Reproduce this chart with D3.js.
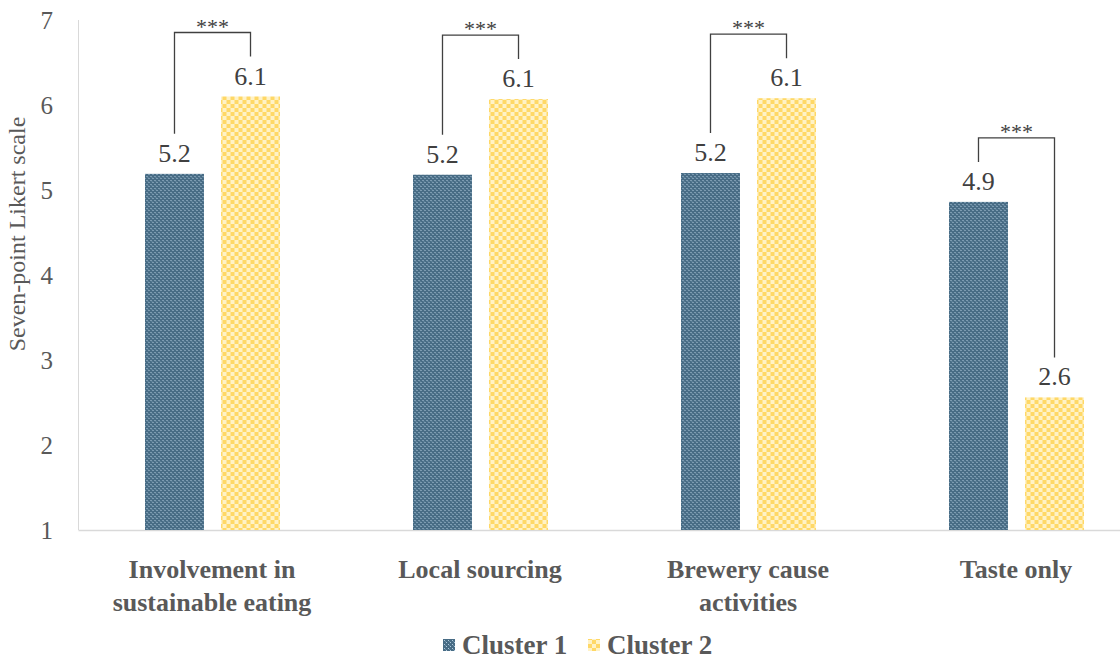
<!DOCTYPE html>
<html>
<head>
<meta charset="utf-8">
<script src="https://d3js.org/d3.v7.min.js"></script>
<style>
  body { margin: 0; background: #fff; }
  #chart { display: block; }
</style>
</head>
<body>
<svg id="chart"></svg>
<script>
const categories = [["Involvement in", "sustainable eating"], ["Local sourcing"], ["Brewery cause", "activities"], ["Taste only"]];
const seriesNames = ["Cluster 1", "Cluster 2"];
const cluster1 = [5.19, 5.18, 5.2, 4.86];
const cluster2 = [6.1, 6.07, 6.08, 2.56];
const significance = ["***", "***", "***", "***"];
const yTicks = [1, 2, 3, 4, 5, 6, 7];

const width = 1120, height = 660;
const grey = "#595959";
const serif = "'Liberation Serif', 'DejaVu Serif', serif";

const svg = d3.select("#chart").attr("width", width).attr("height", height);

// patterns
const defs = svg.append("defs");
const p1 = defs.append("pattern").attr("id", "pat1").attr("patternUnits", "userSpaceOnUse")
    .attr("width", 4).attr("height", 4);
p1.append("rect").attr("width", 4).attr("height", 4).attr("fill", "#486c85");
p1.append("rect").attr("x", 0).attr("y", 0).attr("width", 1).attr("height", 1).attr("fill", "#b0cadc");
p1.append("rect").attr("x", 2).attr("y", 2).attr("width", 1).attr("height", 1).attr("fill", "#b0cadc");
p1.append("rect").attr("x", 1).attr("y", 1).attr("width", 1).attr("height", 1).attr("fill", "#6a8ca3");

const p2 = defs.append("pattern").attr("id", "pat2").attr("patternUnits", "userSpaceOnUse")
    .attr("width", 8).attr("height", 8);
p2.append("rect").attr("width", 8).attr("height", 8).attr("fill", "#fff2c6");
p2.append("rect").attr("x", 0).attr("y", 0).attr("width", 4).attr("height", 4).attr("fill", "#ffd866");
p2.append("rect").attr("x", 4).attr("y", 4).attr("width", 4).attr("height", 4).attr("fill", "#ffd866");

const fills = { "Cluster 1": "url(#pat1)", "Cluster 2": "url(#pat2)" };

const x0 = d3.scaleBand().domain(d3.range(categories.length)).range([78.5, 1150.5]).padding(0);
const x1 = d3.scaleBand().domain(seriesNames).range([66.5, 201.5]).paddingInner(0.224);
const y = d3.scaleLinear().domain([1, 7]).range([530, 20]);

// axes lines
svg.append("line").attr("x1", 78.5).attr("x2", 78.5).attr("y1", y(7)).attr("y2", y(1))
    .attr("stroke", "#d9d9d9").attr("stroke-width", 1);
svg.append("line").attr("x1", 78.5).attr("x2", width).attr("y1", y(1) + 0.5).attr("y2", y(1) + 0.5)
    .attr("stroke", "#d9d9d9").attr("stroke-width", 1.5);

// y tick labels
svg.append("g").selectAll("text").data(yTicks).join("text")
    .attr("x", 53).attr("y", d => y(d)).attr("dy", "0.35em")
    .attr("text-anchor", "end")
    .style("font-family", serif).style("font-size", "25px").style("fill", grey)
    .text(d => d);

svg.append("text")
    .attr("transform", `translate(25,234) rotate(-90)`)
    .attr("text-anchor", "middle")
    .style("font-family", serif).style("font-size", "24px").style("fill", grey)
    .text("Seven-point Likert scale");

const rows = categories.map((c, i) => ({ i, values: [cluster1[i], cluster2[i]] }));

const g = svg.append("g").selectAll("g").data(rows).join("g")
    .attr("transform", d => `translate(${x0(d.i)},0)`);

g.selectAll("rect").data(d => d.values.map((v, k) => ({ key: seriesNames[k], v }))).join("rect")
    .attr("x", d => x1(d.key)).attr("width", x1.bandwidth())
    .attr("y", d => y(d.v)).attr("height", d => y(1) - y(d.v))
    .attr("fill", d => fills[d.key]);

g.selectAll("text.val").data(d => d.values.map((v, k) => ({ key: seriesNames[k], v }))).join("text")
    .attr("class", "val")
    .attr("x", d => x1(d.key) + x1.bandwidth() / 2).attr("y", d => y(d.v) - 12)
    .attr("text-anchor", "middle")
    .style("font-family", serif).style("font-size", "26px").style("fill", "#404040")
    .text(d => d3.format(".1f")(d.v));

// significance brackets
g.each(function(d) {
    const sel = d3.select(this);
    const xa = x1(seriesNames[0]) + x1.bandwidth() / 2;
    const xb = x1(seriesNames[1]) + x1.bandwidth() / 2;
    const top = y(d3.max(d.values)) - 64;
    const ya = y(d.values[0]) - 40;
    const yb = y(d.values[1]) - 40;
    sel.append("path")
        .attr("d", `M${xa},${ya}V${top}H${xb}V${yb}`)
        .attr("fill", "none").attr("stroke", "#404040").attr("stroke-width", 1.3);
    sel.append("text")
        .attr("x", (xa + xb) / 2).attr("y", top + 1)
        .attr("text-anchor", "middle")
        .style("font-family", serif).style("font-size", "22px").style("fill", "#404040")
        .text(significance[d.i]);
});

// category labels
g.append("text")
    .attr("x", x0.bandwidth() / 2 - 0.5)
    .attr("text-anchor", "middle")
    .style("font-family", serif).style("font-size", "26px").style("font-weight", "bold").style("fill", grey)
    .selectAll("tspan").data(d => categories[d.i]).join("tspan")
    .attr("x", x0.bandwidth() / 2 - 0.5)
    .attr("y", (t, j) => 578 + j * 33)
    .text(t => t);

// legend
const legend = svg.append("g");
const legendX = [443, 588];
seriesNames.forEach((s, i) => {
    legend.append("rect").attr("x", legendX[i]).attr("y", 639).attr("width", 12).attr("height", 12)
        .attr("fill", fills[s]);
    legend.append("text").attr("x", legendX[i] + 19).attr("y", 654)
        .style("font-family", serif).style("font-size", "27px").style("font-weight", "bold").style("fill", grey)
        .text(s);
});
</script>
</body>
</html>
